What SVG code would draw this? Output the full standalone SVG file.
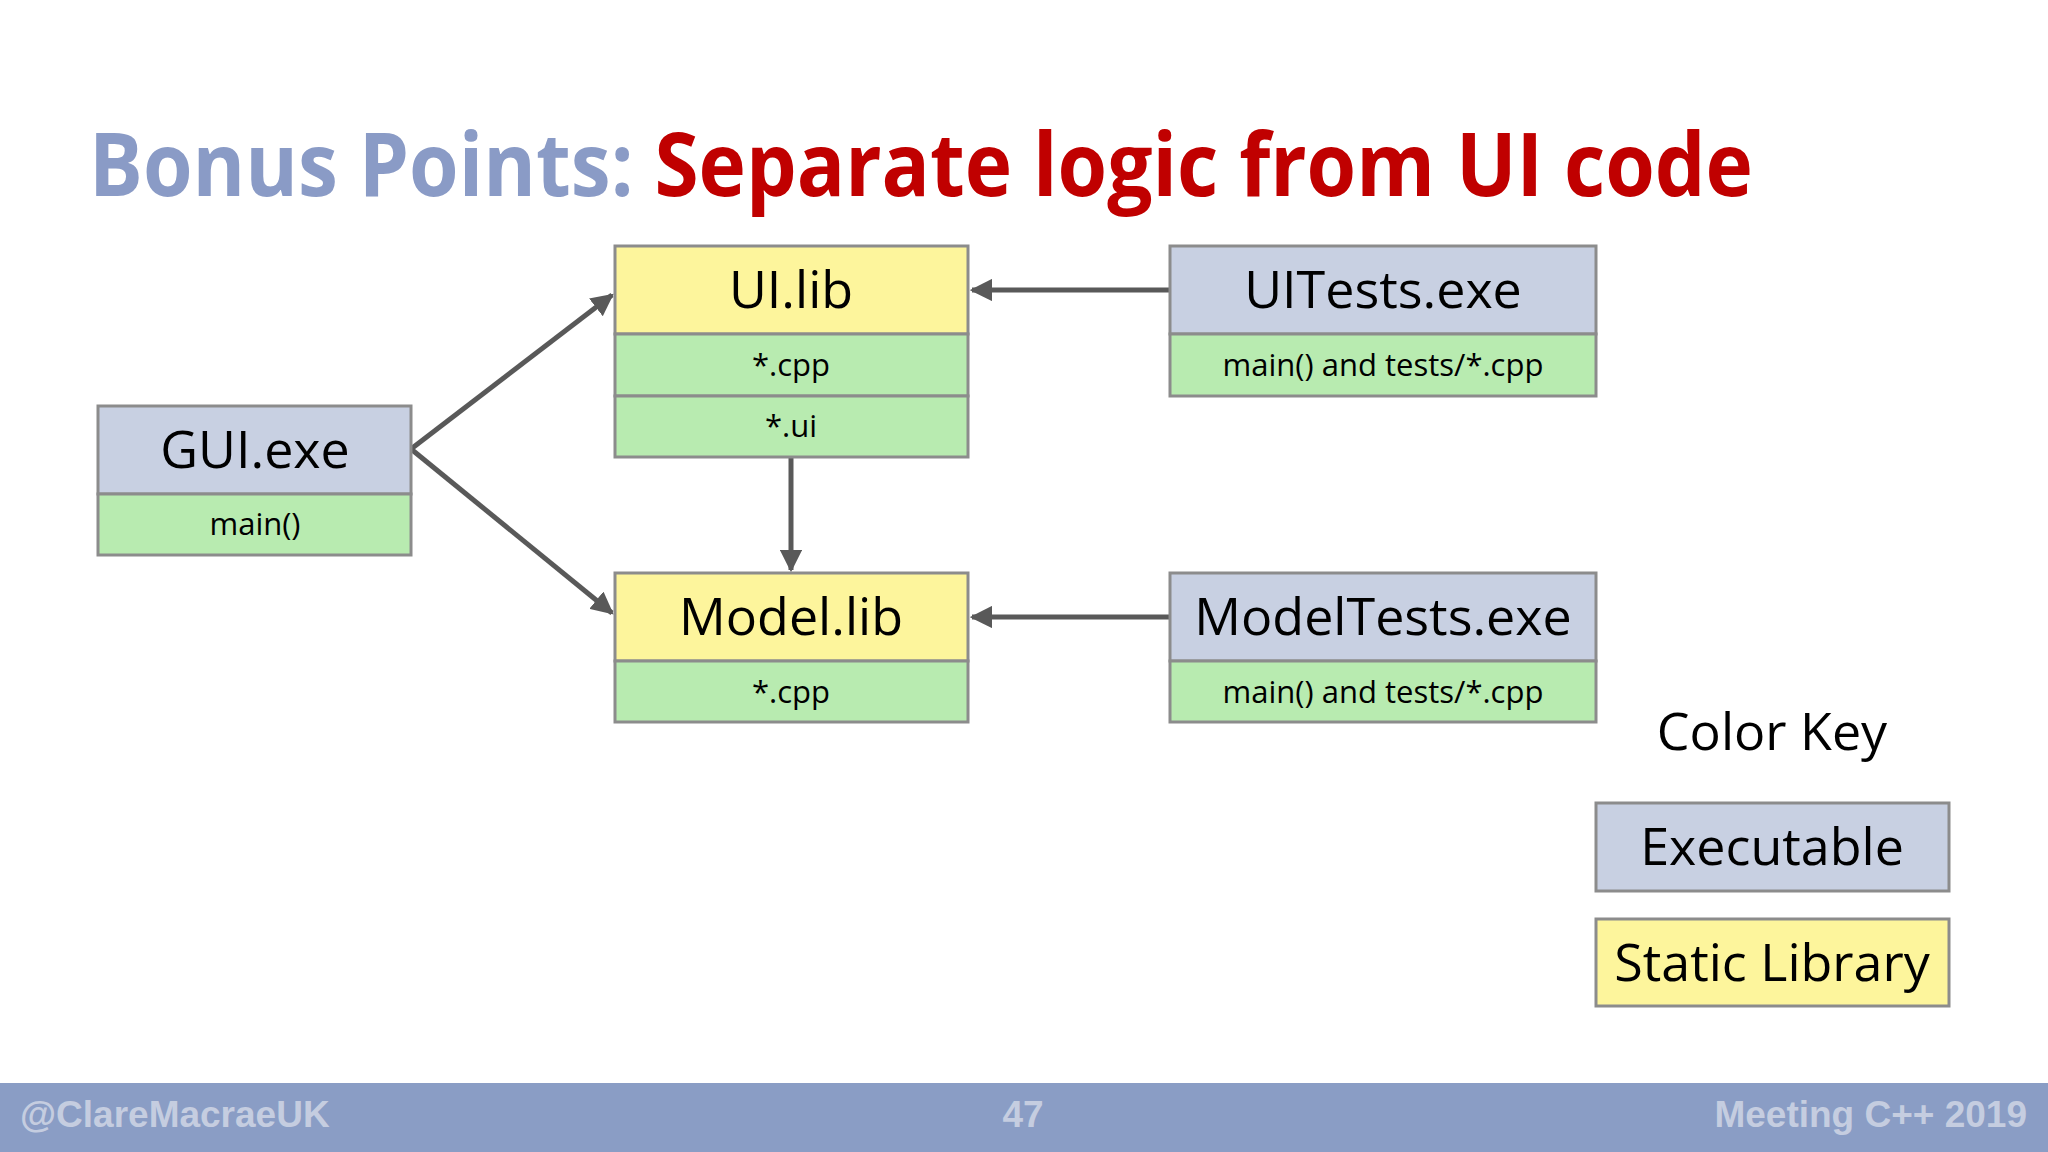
<svg xmlns="http://www.w3.org/2000/svg" width="2048" height="1152" viewBox="0 0 2048 1152">
<defs>
<style>
.exe{fill:#c8d0e2;stroke:#8c8c8c;stroke-width:3}
.lib{fill:#fdf59c;stroke:#8c8c8c;stroke-width:3}
.src{fill:#b8ebb0;stroke:#8c8c8c;stroke-width:3}
.h{font-family:"Open Sans","Liberation Sans",sans-serif;font-size:52px;fill:#000;text-anchor:middle}
.r{font-family:"Open Sans","Liberation Sans",sans-serif;font-size:31px;fill:#000;text-anchor:middle}
.c{stroke:#595959;stroke-width:5;fill:none;marker-end:url(#a)}
.f{font-family:"Liberation Sans",Arial,sans-serif;font-weight:bold;font-size:37px;fill:#c5cde0}
</style>
<marker id="a" viewBox="0 0 10 10" refX="9" refY="5" markerWidth="4.5" markerHeight="4.5" orient="auto" markerUnits="strokeWidth"><path d="M0,0L10,5L0,10z" fill="#595959"/></marker>
</defs>
<rect width="2048" height="1152" fill="#fff"/>
<text x="89" y="196" font-family="'Open Sans','Liberation Sans',sans-serif" font-weight="bold" font-size="88" textLength="1664" lengthAdjust="spacingAndGlyphs"><tspan fill="#8a9bc6">Bonus Points: </tspan><tspan fill="#c00000">Separate logic from UI code</tspan></text>
<g id="connectors">
<line class="c" x1="411" y1="449" x2="612" y2="295"/>
<line class="c" x1="411" y1="449" x2="612" y2="613"/>
<line class="c" x1="1170" y1="290" x2="972" y2="290"/>
<line class="c" x1="1170" y1="617" x2="972" y2="617"/>
<line class="c" x1="791" y1="457" x2="791" y2="570"/>
</g>
<g id="uilib"><rect class="lib" x="615" y="246" width="353" height="88"/><text class="h" x="791" y="308">UI.lib</text>
<rect class="src" x="615" y="334" width="353" height="62"/><text class="r" x="791" y="376">*.cpp</text>
<rect class="src" x="615" y="396" width="353" height="61"/><text class="r" x="791" y="437">*.ui</text></g>
<g id="uitests"><rect class="exe" x="1170" y="246" width="426" height="88"/><text class="h" x="1383" y="308">UITests.exe</text>
<rect class="src" x="1170" y="334" width="426" height="62"/><text class="r" x="1383" y="376">main() and tests/*.cpp</text></g>
<g id="gui"><rect class="exe" x="98" y="406" width="313" height="88"/><text class="h" x="255" y="468">GUI.exe</text>
<rect class="src" x="98" y="494" width="313" height="61"/><text class="r" x="255" y="535">main()</text></g>
<g id="modellib"><rect class="lib" x="615" y="573" width="353" height="88"/><text class="h" x="791" y="635">Model.lib</text>
<rect class="src" x="615" y="661" width="353" height="61"/><text class="r" x="791" y="703">*.cpp</text></g>
<g id="modeltests"><rect class="exe" x="1170" y="573" width="426" height="88"/><text class="h" x="1383" y="635">ModelTests.exe</text>
<rect class="src" x="1170" y="661" width="426" height="61"/><text class="r" x="1383" y="703">main() and tests/*.cpp</text></g>
<g id="key"><text class="h" x="1772" y="750">Color Key</text>
<rect class="exe" x="1596" y="803" width="353" height="88"/><text class="h" x="1772" y="865">Executable</text>
<rect class="lib" x="1596" y="919" width="353" height="87"/><text class="h" x="1772" y="981">Static Library</text></g>
<rect x="0" y="1083" width="2048" height="69" fill="#8a9dc5"/>
<text class="f" x="20" y="1127">@ClareMacraeUK</text>
<text class="f" x="1023" y="1127" text-anchor="middle">47</text>
<text class="f" x="2027" y="1127" text-anchor="end">Meeting C++ 2019</text>
</svg>
